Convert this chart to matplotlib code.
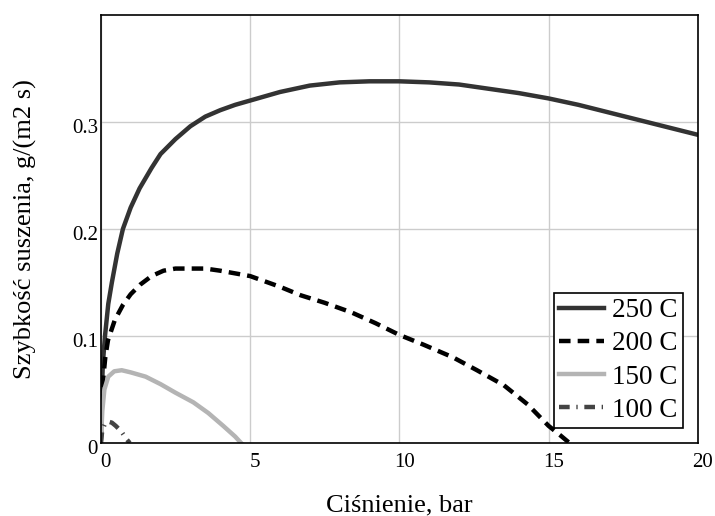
import numpy as np
import matplotlib.pyplot as plt
import matplotlib.transforms as mtransforms

plt.rcParams['font.family'] = ['Liberation Serif', 'DejaVu Serif']

# drying rate curves read for each temperature
p250 = [0, 0.03, 0.07, 0.14, 0.25, 0.37, 0.55, 0.74, 1.0, 1.3, 1.7, 2.0, 2.5, 3.0, 3.5, 4.0, 4.5, 5.0,
        6.0, 7.0, 8.0, 9.0, 10.0, 11.0, 12.0, 13.0, 14.0, 15.0, 16.0, 17.0, 18.0, 19.0, 20.0]
r250 = [0, 0.045, 0.075, 0.1, 0.13, 0.15, 0.177, 0.2, 0.22, 0.238, 0.257, 0.27, 0.284, 0.296, 0.305, 0.311, 0.316, 0.32,
        0.328, 0.334, 0.337, 0.338, 0.338, 0.337, 0.335, 0.331, 0.327, 0.322, 0.316, 0.309, 0.302, 0.295, 0.288]

p200 = [0, 0.03, 0.08, 0.15, 0.24, 0.47, 0.74, 1.0, 1.32, 1.7, 2.1, 2.5, 3.0, 3.5, 4.0, 5.0, 6.0, 6.7,
        7.5, 8.4, 9.2, 10.0, 10.8, 11.8, 12.6, 13.5, 14.3, 15.0, 15.4, 15.7]
r200 = [0, 0.03, 0.06, 0.08, 0.096, 0.115, 0.129, 0.139, 0.148, 0.156, 0.161, 0.163, 0.163, 0.163, 0.161, 0.156, 0.146, 0.138,
        0.131, 0.122, 0.112, 0.101, 0.092, 0.08, 0.068, 0.054, 0.036, 0.016, 0.007, 0]

p150 = [0, 0.05, 0.12, 0.25, 0.45, 0.7, 1.0, 1.5, 2.0, 2.5, 3.1, 3.6, 4.1, 4.5, 4.7]
r150 = [0, 0.03, 0.05, 0.062, 0.067, 0.068, 0.066, 0.062, 0.055, 0.047, 0.038, 0.028, 0.016, 0.006, 0]

p100 = [0, 0.05, 0.14, 0.25, 0.37, 0.5, 0.68, 0.88, 0.97]
r100 = [0, 0.012, 0.018, 0.02, 0.019, 0.016, 0.011, 0.003, 0]

fig = plt.figure(figsize=(7.15, 5.16), dpi=100)
ax = fig.add_axes([0.141, 0.1415, 0.835, 0.8295])

ax.plot(p250, r250, color='#333333', lw=3.2, label='250 C')
ax.plot(p200, r200, color='black', lw=3.2, dashes=(2.6, 1.6, 2.6, 1.6), label='200 C')
ax.plot(p150, r150, color='#b4b4b4', lw=3.2, label='150 C')
ax.plot(p100, r100, color='#444444', lw=3.2, dashes=(2.4, 1.5, 0.3, 1.5), label='100 C')

ax.set_xlim(0, 20)
ax.set_ylim(0, 0.4)
ax.set_xticks([0, 5, 10, 15, 20])
ax.set_yticks([0, 0.1, 0.2, 0.3])
ax.set_yticklabels(['0', '0.1', '0.2', '0.3'])
ax.grid(True, color='#cccccc', lw=1)
ax.set_axisbelow(True)
ax.tick_params(length=0, labelsize=15)
ax.tick_params(axis='x', pad=7)
ax.tick_params(axis='y', pad=2)
for s in ax.spines.values():
    s.set_linewidth(1.2)

# tick labels sit slightly right / below their grid lines
dx = mtransforms.ScaledTranslation(5 / 100, 0, fig.dpi_scale_trans)
dy = mtransforms.ScaledTranslation(0, -4 / 100, fig.dpi_scale_trans)
for lab in ax.get_xticklabels():
    lab.set_transform(lab.get_transform() + dx)
for lab in ax.get_yticklabels():
    lab.set_transform(lab.get_transform() + dy)

ax.set_xlabel('Ciśnienie, bar', fontsize=19)
ax.set_ylabel('Szybkość suszenia, g/(m2 s)', fontsize=19)
ax.xaxis.set_label_coords(0.5, -0.121)
ax.yaxis.set_label_coords(-0.107, 0.5)

leg = ax.legend(loc='lower right', fontsize=19.5, frameon=True, fancybox=False,
                edgecolor='black', framealpha=1, handlelength=1.65, borderaxespad=0.55,
                labelspacing=0.3, handletextpad=0.3, borderpad=0.2)
leg.get_frame().set_linewidth(1.2)

fig.savefig('out.png', dpi=100)
